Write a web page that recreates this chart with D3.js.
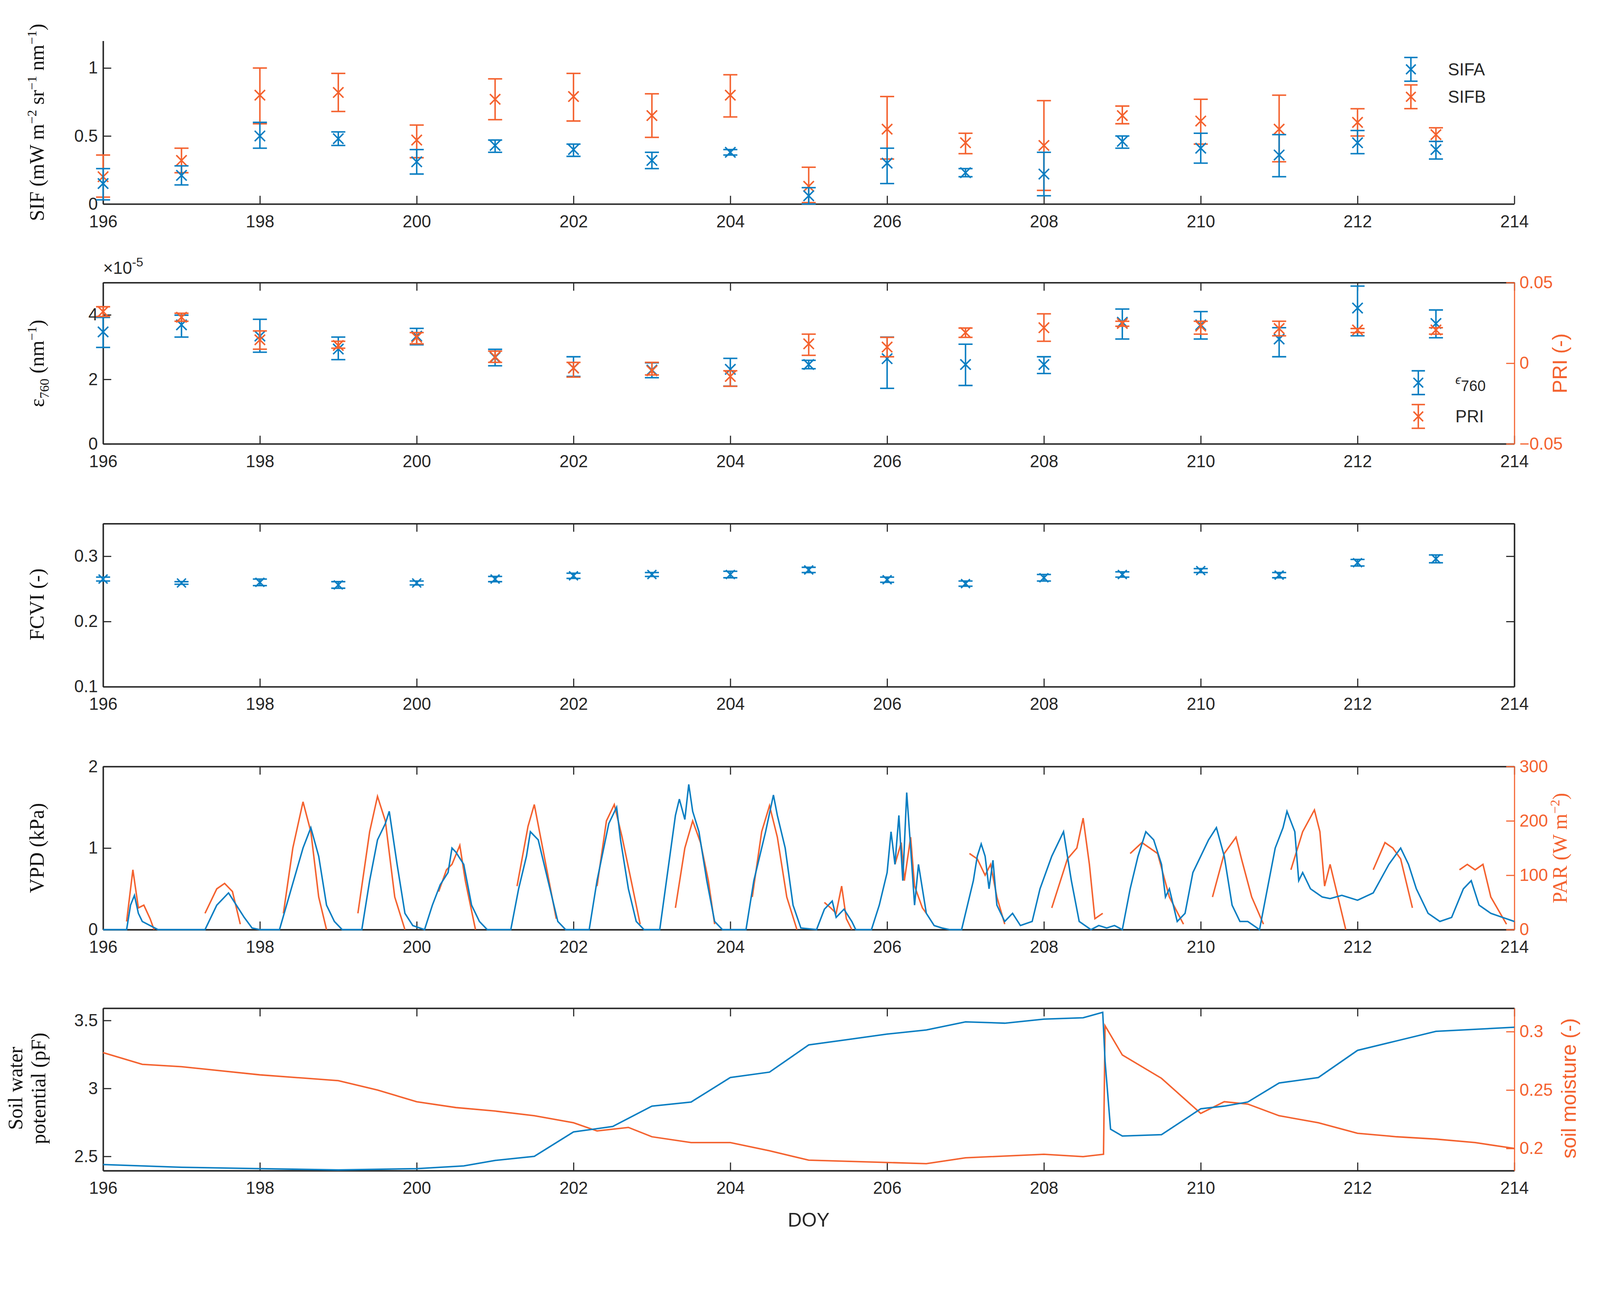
<!DOCTYPE html>
<html><head><meta charset="utf-8">
<script src="https://cdn.jsdelivr.net/npm/d3@7"></script>
<style>html,body{margin:0;padding:0;overflow:hidden;background:#fff}svg{display:block;width:100%;height:auto}</style></head>
<body><svg id="c" viewBox="0 0 4315 3333"></svg>
<script>
var blue = '#0A7EC2', orange = '#F4622F';
var days = d3.range(196, 214);
var xTicks = d3.range(196, 215, 2);

// SIF [mean, lo, hi]
var sifA = [[0.15,0.03,0.26],[0.21,0.14,0.28],[0.50,0.41,0.60],[0.48,0.43,0.53],[0.31,0.22,0.40],[0.43,0.38,0.47],[0.40,0.35,0.44],[0.32,0.26,0.38],[0.38,0.36,0.40],[0.06,0.00,0.12],[0.30,0.15,0.41],[0.23,0.20,0.26],[0.22,0.06,0.38],[0.46,0.41,0.50],[0.41,0.30,0.52],[0.36,0.20,0.51],[0.45,0.37,0.54],[0.40,0.33,0.46]];
var sifB = [[0.20,0.05,0.36],[0.32,0.23,0.41],[0.80,0.59,1.00],[0.82,0.68,0.96],[0.47,0.34,0.58],[0.77,0.62,0.92],[0.79,0.61,0.96],[0.65,0.49,0.81],[0.80,0.64,0.95],[0.13,0.01,0.27],[0.55,0.33,0.79],[0.45,0.37,0.52],[0.43,0.10,0.76],[0.65,0.59,0.72],[0.61,0.44,0.77],[0.55,0.31,0.80],[0.60,0.50,0.70],[0.51,0.46,0.56]];
// epsilon760 (x1e-5) and PRI [mean, lo, hi]
var eps = [[3.47,2.99,3.92],[3.69,3.31,3.99],[3.34,2.84,3.86],[2.94,2.61,3.31],[3.34,3.07,3.58],[2.68,2.42,2.93],[2.35,2.09,2.70],[2.29,2.05,2.51],[2.31,1.79,2.65],[2.46,2.33,2.59],[2.64,1.72,3.31],[2.46,1.81,3.09],[2.46,2.18,2.70],[3.77,3.25,4.18],[3.69,3.25,4.10],[3.25,2.70,3.60],[4.21,3.35,4.89],[3.73,3.29,4.15]];
var pri = [[0.032,0.029,0.035],[0.0285,0.026,0.031],[0.0145,0.0087,0.020],[0.011,0.0093,0.0136],[0.016,0.012,0.019],[0.004,0.0005,0.0075],[-0.003,-0.0086,0.0005],[-0.0047,-0.0073,0.0005],[-0.0082,-0.0143,-0.0047],[0.012,0.0049,0.018],[0.010,0.004,0.016],[0.019,0.016,0.0218],[0.022,0.0136,0.0306],[0.0246,0.0229,0.026],[0.023,0.018,0.026],[0.0215,0.017,0.026],[0.0206,0.019,0.0215],[0.0206,0.018,0.022]];
// FCVI [mean, half range]
var fcvi = [[0.265,0.003],[0.259,0.002],[0.260,0.005],[0.256,0.005],[0.259,0.003],[0.265,0.004],[0.270,0.004],[0.272,0.003],[0.272,0.005],[0.279,0.004],[0.264,0.004],[0.258,0.004],[0.267,0.005],[0.272,0.004],[0.278,0.003],[0.271,0.004],[0.290,0.005],[0.296,0.006]];
// VPD [doy, kPa]
var vpd = [[196,0],[196.3,0],[196.35,0.3],[196.4,0.42],[196.45,0.2],[196.5,0.1],[196.6,0.05],[196.7,0],[197.3,0],[197.45,0.3],[197.6,0.45],[197.7,0.3],[197.8,0.15],[197.9,0.02],[198,0],[198.25,0],[198.4,0.5],[198.55,1.0],[198.65,1.25],[198.75,0.9],[198.85,0.3],[198.95,0.1],[199.05,0],[199.3,0],[199.4,0.6],[199.5,1.1],[199.6,1.3],[199.65,1.45],[199.75,0.8],[199.85,0.2],[199.95,0.05],[200.1,0],[200.2,0.3],[200.3,0.55],[200.4,0.7],[200.45,1.0],[200.5,0.95],[200.6,0.8],[200.7,0.3],[200.8,0.1],[200.9,0],[201.2,0],[201.3,0.5],[201.4,0.9],[201.45,1.2],[201.55,1.1],[201.7,0.5],[201.8,0.1],[201.9,0],[202.2,0],[202.3,0.6],[202.45,1.3],[202.55,1.5],[202.6,1.1],[202.7,0.5],[202.8,0.1],[202.9,0],[203.1,0],[203.2,0.7],[203.3,1.4],[203.35,1.6],[203.42,1.35],[203.47,1.78],[203.52,1.45],[203.6,1.2],[203.7,0.6],[203.8,0.1],[203.9,0],[204.2,0],[204.3,0.6],[204.45,1.2],[204.55,1.65],[204.6,1.4],[204.7,1.0],[204.8,0.3],[204.9,0.02],[205.1,0],[205.2,0.25],[205.3,0.35],[205.35,0.15],[205.45,0.25],[205.55,0.1],[205.6,0],[205.8,0],[205.9,0.3],[206,0.7],[206.05,1.2],[206.1,0.8],[206.15,1.4],[206.2,0.6],[206.25,1.68],[206.3,1.0],[206.35,0.3],[206.4,0.8],[206.5,0.2],[206.6,0.05],[206.7,0.02],[206.8,0],[206.95,0],[207.1,0.6],[207.15,0.9],[207.2,1.05],[207.25,0.9],[207.3,0.5],[207.35,0.85],[207.4,0.3],[207.5,0.1],[207.6,0.2],[207.7,0.05],[207.85,0.1],[207.95,0.5],[208.1,0.9],[208.25,1.2],[208.35,0.6],[208.45,0.1],[208.6,0],[208.7,0.05],[208.8,0.02],[208.9,0.05],[209,0],[209.1,0.5],[209.2,0.9],[209.3,1.2],[209.4,1.1],[209.5,0.8],[209.55,0.4],[209.6,0.5],[209.7,0.1],[209.8,0.2],[209.9,0.7],[210,0.9],[210.1,1.1],[210.2,1.25],[210.3,0.9],[210.4,0.3],[210.5,0.1],[210.6,0.1],[210.75,0],[210.85,0.5],[210.95,1.0],[211.05,1.25],[211.1,1.45],[211.2,1.2],[211.25,0.6],[211.3,0.7],[211.4,0.5],[211.55,0.4],[211.65,0.38],[211.8,0.42],[212,0.36],[212.2,0.45],[212.4,0.8],[212.55,1.0],[212.65,0.8],[212.75,0.5],[212.9,0.2],[213.05,0.1],[213.2,0.15],[213.35,0.5],[213.45,0.6],[213.55,0.3],[213.7,0.2],[213.85,0.15],[214,0.1]];
// PAR [doy, W m-2], one array per day
var par = [
 [[196.3,15],[196.38,110],[196.45,40],[196.52,45],[196.6,20],[196.65,0]],
 [[197.3,30],[197.45,75],[197.55,85],[197.65,70],[197.75,10]],
 [[198.3,30],[198.42,150],[198.55,235],[198.65,180],[198.75,60],[198.85,0]],
 [[199.25,30],[199.4,180],[199.5,245],[199.6,200],[199.72,60],[199.85,0]],
 [[200.28,70],[200.38,110],[200.45,120],[200.55,155],[200.62,90],[200.75,0]],
 [[201.28,80],[201.42,190],[201.5,230],[201.62,140],[201.78,20]],
 [[202.3,80],[202.42,200],[202.52,230],[202.62,170],[202.75,80],[202.85,10]],
 [[203.3,40],[203.42,150],[203.52,200],[203.62,160],[203.72,90],[203.8,10]],
 [[204.28,60],[204.4,180],[204.5,228],[204.6,170],[204.72,60],[204.85,0]],
 [[205.2,50],[205.28,40],[205.35,30],[205.42,80],[205.48,20],[205.55,0]],
 [[206.1,120],[206.18,160],[206.22,90],[206.3,170],[206.35,80],[206.45,40],[206.5,30]],
 [[207.05,140],[207.15,130],[207.25,100],[207.32,120],[207.4,60],[207.5,10]],
 [[208.1,40],[208.3,130],[208.42,150],[208.5,205],[208.58,120],[208.65,20],[208.75,30]],
 [[209.1,140],[209.25,160],[209.35,150],[209.45,140],[209.6,60],[209.78,10]],
 [[210.15,60],[210.3,140],[210.45,170],[210.52,130],[210.65,60],[210.8,10]],
 [[211.15,110],[211.3,180],[211.45,220],[211.52,180],[211.58,80],[211.65,120],[211.85,0]],
 [[212.2,110],[212.35,160],[212.45,150],[212.55,130],[212.7,40]],
 [[213.3,110],[213.4,120],[213.5,110],[213.6,120],[213.7,60],[213.9,10]]
];
// soil water potential [doy, pF] and soil moisture [doy, -]
var swp = [[196,2.44],[197,2.42],[198,2.41],[199,2.40],[200,2.41],[200.6,2.43],[201,2.47],[201.5,2.50],[202,2.68],[202.5,2.72],[203,2.87],[203.5,2.90],[204,3.08],[204.5,3.12],[205,3.32],[205.5,3.36],[206,3.40],[206.5,3.43],[207,3.49],[207.5,3.48],[208,3.51],[208.5,3.52],[208.75,3.56],[208.78,3.2],[208.85,2.70],[209,2.65],[209.5,2.66],[210,2.85],[210.3,2.87],[210.6,2.90],[211,3.04],[211.5,3.08],[212,3.28],[212.5,3.35],[213,3.42],[214,3.45]];
var sm = [[196,0.282],[196.5,0.272],[197,0.270],[198,0.263],[199,0.258],[199.5,0.250],[200,0.240],[200.5,0.235],[201,0.232],[201.5,0.228],[202,0.222],[202.3,0.215],[202.7,0.218],[203,0.210],[203.5,0.205],[204,0.205],[204.5,0.198],[205,0.190],[206,0.188],[206.5,0.187],[207,0.192],[208,0.195],[208.5,0.193],[208.76,0.195],[208.78,0.305],[209,0.280],[209.5,0.260],[210,0.230],[210.3,0.240],[210.6,0.238],[211,0.228],[211.5,0.222],[212,0.213],[212.5,0.210],[213,0.208],[213.5,0.205],[214,0.200]];

var svg = d3.select('#c');
var x = d3.scaleLinear().domain([196, 214]).range([278, 4084]);
var tickFont = 'Liberation Sans, Arial, sans-serif';
var serif = 'Liberation Serif, Times New Roman, serif';

function panel(top, bottom, yDom, yTicks, opt) {
  var y = d3.scaleLinear().domain(yDom).range([bottom, top]);
  var g = svg.append('g');
  var xa = d3.axisBottom(x).tickValues(xTicks).tickSize(-22).tickSizeOuter(0).tickPadding(30).tickFormat(d3.format('d'));
  g.append('g').attr('transform', `translate(0,${bottom})`).call(xa);
  if (opt.box) {
    g.append('g').attr('transform', `translate(0,${top})`)
      .call(d3.axisTop(x).tickValues(xTicks).tickSize(-22).tickSizeOuter(0).tickFormat(''));
  }
  var ya = d3.axisLeft(y).tickValues(yTicks).tickSize(-22).tickSizeOuter(0).tickPadding(14).tickFormat(opt.fmt || d3.format(''));
  g.append('g').attr('transform', `translate(278,0)`).call(ya);
  if (opt.box && !opt.right) {
    g.append('g').attr('transform', `translate(4084,0)`)
      .call(d3.axisRight(y).tickValues(yTicks).tickSize(-22).tickSizeOuter(0).tickFormat(''));
  }
  g.selectAll('.domain').attr('stroke', '#262626').attr('stroke-width', 4);
  g.selectAll('.tick line').attr('stroke', '#262626').attr('stroke-width', 3);
  g.selectAll('text').attr('font-size', 46).attr('font-family', tickFont).attr('fill', '#262626');
  return {y: y, g: g};
}
function rightAxis(p, top, bottom, dom, ticks) {
  var y2 = d3.scaleLinear().domain(dom).range([bottom, top]);
  var a = p.g.append('g').attr('transform', 'translate(4084,0)')
    .call(d3.axisRight(y2).tickValues(ticks).tickSize(-22).tickSizeOuter(0).tickPadding(14).tickFormat(d3.format('')));
  a.select('.domain').attr('stroke', orange).attr('stroke-width', 3);
  a.selectAll('.tick line').attr('stroke', orange).attr('stroke-width', 3);
  a.selectAll('text').attr('font-size', 46).attr('font-family', tickFont).attr('fill', orange);
  return y2;
}
function errBars(g, data, y, color, cap, m) {
  var grp = g.append('g').attr('stroke', color).attr('stroke-width', 4).attr('fill', 'none');
  data.forEach(function (d, i) {
    var cx = x(days[i]);
    var lo = d.length === 2 ? d[0] - d[1] : d[1], hi = d.length === 2 ? d[0] + d[1] : d[2];
    grp.append('line').attr('x1', cx).attr('x2', cx).attr('y1', y(lo)).attr('y2', y(hi));
    grp.append('line').attr('x1', cx - cap).attr('x2', cx + cap).attr('y1', y(lo)).attr('y2', y(lo));
    grp.append('line').attr('x1', cx - cap).attr('x2', cx + cap).attr('y1', y(hi)).attr('y2', y(hi));
    var cy = y(d[0]);
    grp.append('path').attr('d', `M${cx-m},${cy-m}L${cx+m},${cy+m}M${cx-m},${cy+m}L${cx+m},${cy-m}`);
  });
}
function legendItem(g, lx, ly, color) {
  var grp = g.append('g').attr('stroke', color).attr('stroke-width', 4).attr('fill', 'none');
  grp.append('line').attr('x1', lx).attr('x2', lx).attr('y1', ly - 32).attr('y2', ly + 32);
  grp.append('line').attr('x1', lx - 18).attr('x2', lx + 18).attr('y1', ly - 32).attr('y2', ly - 32);
  grp.append('line').attr('x1', lx - 18).attr('x2', lx + 18).attr('y1', ly + 32).attr('y2', ly + 32);
  grp.append('path').attr('d', `M${lx-13},${ly-13}L${lx+13},${ly+13}M${lx-13},${ly+13}L${lx+13},${ly-13}`);
}
function legText(g, lx, ly) {
  return g.append('text').attr('x', lx).attr('y', ly + 16).attr('font-size', 46)
    .attr('font-family', tickFont).attr('fill', '#262626');
}
function ylabel(cx, cy, color, fam, size) {
  return svg.append('text').attr('transform', `translate(${cx},${cy}) rotate(-90)`)
    .attr('text-anchor', 'middle').attr('font-size', size || 55).attr('font-family', fam).attr('fill', color);
}

// Panel 1 SIF
var p1 = panel(110, 550, [0, 1.2], [0, 0.5, 1], {box: false});
errBars(p1.g, sifB, p1.y, orange, 19, 14);
errBars(p1.g, sifA, p1.y, blue, 19, 14);
legendItem(p1.g, 3805, 187, blue);
legText(p1.g, 3905, 187).text('SIFA');
legendItem(p1.g, 3805, 261, orange);
legText(p1.g, 3905, 261).text('SIFB');
var t1 = ylabel(118, 330, '#111', serif, 55);
t1.append('tspan').text('SIF (mW m');
t1.append('tspan').attr('dy', -20).attr('font-size', 36).text('−2');
t1.append('tspan').attr('dy', 20).text(' sr');
t1.append('tspan').attr('dy', -20).attr('font-size', 36).text('−1');
t1.append('tspan').attr('dy', 20).text(' nm');
t1.append('tspan').attr('dy', -20).attr('font-size', 36).text('−1');
t1.append('tspan').attr('dy', 20).text(')');

// Panel 2 epsilon / PRI
var p2 = panel(762, 1197, [0, 5], [0, 2, 4], {box: true, right: true});
var yPri = rightAxis(p2, 762, 1197, [-0.05, 0.05], [-0.05, 0, 0.05]);
errBars(p2.g, eps, p2.y, blue, 19, 14);
errBars(p2.g, pri, yPri, orange, 19, 14);
legendItem(p2.g, 3825, 1032, blue);
var le = legText(p2.g, 3925, 1020).attr('font-style', 'italic').attr('font-size', 34);
le.append('tspan').text('ϵ');
le.append('tspan').attr('dy', 18).attr('font-size', 40).attr('font-style', 'normal').text('760');
legendItem(p2.g, 3825, 1123, orange);
legText(p2.g, 3925, 1123).text('PRI');
var ex = svg.append('text').attr('x', 278).attr('y', 738).attr('font-size', 46).attr('font-family', tickFont).attr('fill', '#262626');
ex.append('tspan').text('×10');
ex.append('tspan').attr('dy', -20).attr('font-size', 34).text('-5');
var t2 = ylabel(118, 980, '#111', serif, 55);
t2.append('tspan').text('ε');
t2.append('tspan').attr('dy', 14).attr('font-size', 36).text('760');
t2.append('tspan').attr('dy', -14).text(' (nm');
t2.append('tspan').attr('dy', -20).attr('font-size', 36).text('−1');
t2.append('tspan').attr('dy', 20).text(')');
ylabel(4225, 980, orange, tickFont, 55).text('PRI (-)');

// Panel 3 FCVI
var p3 = panel(1412, 1852, [0.1, 0.35], [0.1, 0.2, 0.3], {box: true, fmt: d3.format('.1f')});
errBars(p3.g, fcvi, p3.y, blue, 19, 12);
ylabel(118, 1630, '#111', serif, 55).text('FCVI  (-)');

// Panel 4 VPD / PAR
var p4 = panel(2067, 2507, [0, 2], [0, 1, 2], {box: true, right: true});
var yPar = rightAxis(p4, 2067, 2507, [0, 300], [0, 100, 200, 300]);
var lp = d3.line().x(function(d){return x(d[0]);});
par.forEach(function (seg) {
  p4.g.append('path').attr('d', lp.y(function(d){return yPar(d[1]);})(seg))
    .attr('fill', 'none').attr('stroke', orange).attr('stroke-width', 4);
});
p4.g.append('path').attr('d', lp.y(function(d){return p4.y(d[1]);})(vpd))
  .attr('fill', 'none').attr('stroke', blue).attr('stroke-width', 4);
ylabel(118, 2287, '#111', serif, 55).text('VPD (kPa)');
var t4 = ylabel(4225, 2287, orange, serif, 55);
t4.append('tspan').text('PAR (W m');
t4.append('tspan').attr('dy', -20).attr('font-size', 36).text('−2');
t4.append('tspan').attr('dy', 20).text(')');

// Panel 5 soil
var p5 = panel(2719, 3157, [2.395, 3.59], [2.5, 3, 3.5], {box: true, right: true});
var ySm = rightAxis(p5, 2719, 3157, [0.181, 0.32], [0.2, 0.25, 0.3]);
p5.g.append('path').attr('d', lp.y(function(d){return ySm(d[1]);})(sm))
  .attr('fill', 'none').attr('stroke', orange).attr('stroke-width', 4);
p5.g.append('path').attr('d', lp.y(function(d){return p5.y(d[1]);})(swp))
  .attr('fill', 'none').attr('stroke', blue).attr('stroke-width', 4);
var t5 = ylabel(60, 2935, '#111', serif, 55);
t5.append('tspan').attr('x', 0).attr('dy', 0).text('Soil water');
t5.append('tspan').attr('x', 0).attr('dy', 62).text('potential (pF)');
ylabel(4250, 2935, orange, tickFont, 55).text('soil moisture (-)');
svg.append('text').attr('x', 2181).attr('y', 3308).attr('text-anchor', 'middle')
  .attr('font-size', 52).attr('font-family', tickFont).attr('fill', '#262626').text('DOY');
</script></body></html>
